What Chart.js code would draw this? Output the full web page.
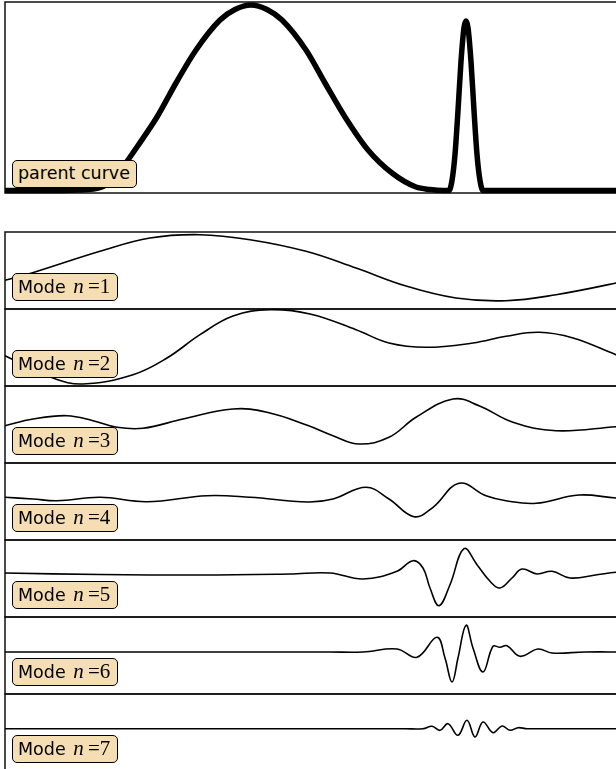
<!DOCTYPE html>
<html>
<head>
<meta charset="utf-8">
<script src="https://cdn.jsdelivr.net/npm/chart.js@4/dist/chart.umd.min.js"></script>
<style>
    body { margin: 0; background: #fff; width: 616px; height: 769px; overflow: hidden; position: relative; font-family: "DejaVu Sans", sans-serif; }
    canvas { position: absolute; left: 0; }
    .tag { position: absolute; left: 12px; height: 28px; box-sizing: border-box; border: 1.6px solid #000; border-radius: 5px;
           background: #f5deb3; font-size: 17.5px; line-height: 25px; padding-left: 5px; white-space: nowrap; color: #000; }
    .tag .m { font-family: "Liberation Serif", serif; font-size: 21px; margin-left: 2px; }
</style>
</head>
<body>
<canvas id="parentChart"></canvas>
<canvas id="mode1"></canvas>
<canvas id="mode2"></canvas>
<canvas id="mode3"></canvas>
<canvas id="mode4"></canvas>
<canvas id="mode5"></canvas>
<canvas id="mode6"></canvas>
<canvas id="mode7"></canvas>
<script>
// Parent curve (time, height above baseline)
const parentT = [0, 35, 73, 97, 112, 123, 132, 152, 171, 191, 215, 230, 246, 262, 277, 301, 320, 340, 363, 387, 411, 425, 438,
                 444, 447, 450, 453, 456, 459, 461, 463, 466, 469, 472, 475, 478, 481, 500, 620];
const parentV = [0, 0, 0.5, 3.5, 15, 30.5, 43.5, 73.5, 107.5, 140.5, 170.5, 181, 185.5, 181, 170.5, 140.5, 107.5, 73.5, 40.5, 17.5, 3.5, 1, 0,
                 0, 10, 36, 80, 129, 163, 169.5, 163, 129, 80, 36, 10, 0, 0, 0, 0];

// Decomposed modes (time, amplitude about the panel centre)
const mode1T = [0, 30, 95, 145, 195, 245, 301, 351, 401, 451, 501, 551, 611, 620];
const mode1V = [-9.8, -1.5, 19.2, 32.5, 35.8, 30.8, 19.2, 2.5, -15.5, -27.5, -30.2, -24.2, -12.5, -9.5];

const mode2T = [0, 48, 78, 128, 162, 195, 228, 265, 305, 351, 384, 421, 468, 501, 534, 568, 611, 620];
const mode2V = [-8.2, -30.5, -36.5, -27.2, -10.5, 12.8, 31.5, 37.8, 33.5, 17.8, 4.5, 0.2, 4.5, 11.2, 15.2, 9.5, -7.2, -10.5];

const mode3T = [0, 28, 62, 88, 112, 138, 178, 228, 262, 303, 328, 354, 384, 411, 448, 474, 508, 551, 611, 620];
const mode3V = [-1.2, 5.5, 8.8, 3.8, -2.8, -3.8, 5.5, 15.5, 12.2, -1, -11.2, -19.5, -12.8, 7.2, 25.5, 18.8, 2.2, -6.2, -2.2, -1.5];

const mode4T = [0, 28, 52, 95, 142, 202, 245, 303, 328, 361, 384, 409, 428, 454, 481, 501, 531, 574, 611, 620];
const mode4V = [4.2, 2.5, 0.8, 4.2, -0.2, 5.8, 4.2, -0.5, 2.5, 14.2, 2.5, -15.2, -5.8, 18.2, 5.8, 0.8, -1.8, 6.5, 3.5, 3.5];

const mode5T = [0, 95, 195, 285, 325, 358, 392, 408, 418, 425, 434, 445, 459, 472, 485, 495, 507, 517, 532, 547, 565, 592, 611, 620];
const mode5V = [5.5, 4, 3.5, 4.5, 5.5, -0.5, 7.2, 17.8, 10.5, -9.5, -27.2, -6.2, 29.8, 13.8, -2.8, -9.5, 0.5, 9.5, 4.5, 7.2, 0.5, 3.8, 6.2, 6.5];

const mode6T = [0, 300, 325, 358, 392, 412, 432, 440, 447, 453, 461, 468, 478, 488, 495, 502, 515, 533, 547, 580, 620];
const mode6V = [3.5, 3.5, 3.5, 3.5, 6.5, -1.8, 18.2, -2.5, -26.5, -2.5, 30.2, 7.5, -16.5, 9.2, 8.2, 9.8, -0.8, 6.5, 2.5, 3.5, 3.5];

const mode7T = [0, 400, 418, 427, 435, 443, 453, 462, 470, 478, 488, 497, 505, 513, 522, 540, 620];
const mode7V = [3.8, 3.8, 3.8, 6.2, 2.2, 8.8, -2.8, 12.2, -4.5, 10.5, -0.2, 6.5, 2.2, 4.8, 3.8, 3.8, 3.8];

const parentLabel = 'parent curve';
const modeNumbers = [1, 2, 3, 4, 5, 6, 7];

// Frame lines (top, left, bottom) of each panel
const framePlugin = {
    id: 'frame',
    beforeDatasetsDraw(chart) {
        const {ctx, chartArea: a} = chart;
        ctx.save();
        ctx.strokeStyle = '#111';
        ctx.lineWidth = 1.5;
        ctx.beginPath();
        ctx.moveTo(a.right, a.top);
        ctx.lineTo(a.left, a.top);
        ctx.lineTo(a.left, a.bottom);
        ctx.lineTo(a.right, a.bottom);
        ctx.stroke();
        ctx.restore();
    }
};

function makePanel(id, top, height, t, v, width, yMin, yMax, smooth) {
    const pad = 4;
    const canvas = document.getElementById(id);
    canvas.width = 640;
    canvas.height = height + pad * 2;
    canvas.style.top = (top - pad) + 'px';

    return new Chart(canvas.getContext('2d'), {
        type: 'line',
        data: {
            datasets: [{
                data: t.map((x, i) => ({x: x, y: v[i]})),
                borderColor: '#000',
                borderWidth: width,
                pointRadius: 0,
                cubicInterpolationMode: smooth,
                tension: 0.4,
                fill: false,
                clip: false
            }]
        },
        options: {
            responsive: false,
            animation: false,
            devicePixelRatio: 1,
            layout: { padding: { left: 5, right: 0, top: pad, bottom: pad } },
            scales: {
                x: { type: 'linear', display: false, min: 0, max: 635 },
                y: { display: false, min: yMin, max: yMax }
            },
            plugins: { legend: { display: false }, tooltip: { enabled: false } }
        },
        plugins: [framePlugin]
    });
}

function addTag(html, top, width) {
    const div = document.createElement('div');
    div.className = 'tag';
    div.style.top = top + 'px';
    div.style.width = width + 'px';
    div.innerHTML = html;
    document.body.appendChild(div);
}

makePanel('parentChart', 2, 191, parentT, parentV, 5.5, -2.5, 188.5, 'monotone');

const modeT = [mode1T, mode2T, mode3T, mode4T, mode5T, mode6T, mode7T];
const modeV = [mode1V, mode2V, mode3V, mode4V, mode5V, mode6V, mode7V];
modeNumbers.forEach((n, i) => {
    const top = 232 + 77 * i;
    makePanel('mode' + n, top, 77, modeT[i], modeV[i], 1.6, -38.5, 38.5, 'default');
});

addTag(parentLabel, 160, 125);
modeNumbers.forEach((n, i) => {
    const top = 232 + 77 * (i + 1) - 36;
    addTag('Mode <span class="m"><i>n</i>&#8201;=' + n + '</span>', top, 106);
});
</script>
</body>
</html>
